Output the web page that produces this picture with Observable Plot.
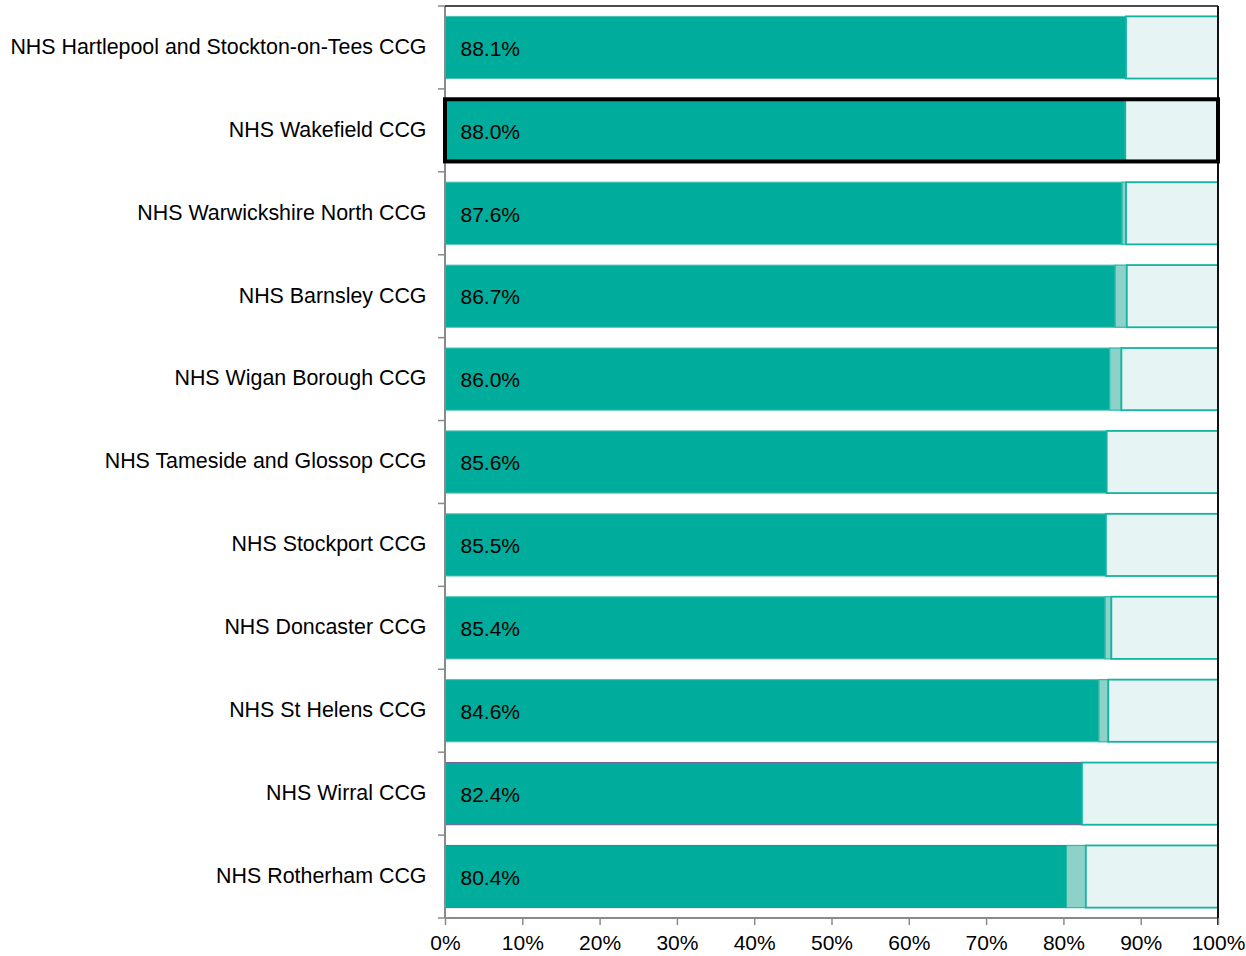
<!DOCTYPE html>
<html>
<head>
<meta charset="utf-8">
<script src="https://cdn.jsdelivr.net/npm/d3@7"></script>
<script src="https://cdn.jsdelivr.net/npm/@observablehq/plot@0.6"></script>
<style>
  html, body { margin: 0; padding: 0; background: #ffffff; }
  #chart svg { display: block; }
</style>
</head>
<body>
<div id="chart"></div>
<script>
// ---- data ----
const categories = [
  "NHS Hartlepool and Stockton-on-Tees CCG",
  "NHS Wakefield CCG",
  "NHS Warwickshire North CCG",
  "NHS Barnsley CCG",
  "NHS Wigan Borough CCG",
  "NHS Tameside and Glossop CCG",
  "NHS Stockport CCG",
  "NHS Doncaster CCG",
  "NHS St Helens CCG",
  "NHS Wirral CCG",
  "NHS Rotherham CCG"
];
const values = [88.1, 88.0, 87.6, 86.7, 86.0, 85.6, 85.5, 85.4, 84.6, 82.4, 80.4];
const upperValues = [88.1, 88.0, 88.1, 88.2, 87.5, 85.6, 85.5, 86.2, 85.8, 82.4, 82.9];
const highlighted = ["NHS Wakefield CCG"];
const purpleOutlined = ["NHS Wirral CCG", "NHS Rotherham CCG"];
const xTicks = [0, 10, 20, 30, 40, 50, 60, 70, 80, 90, 100];
const xTickLabels = ["0%", "10%", "20%", "30%", "40%", "50%", "60%", "70%", "80%", "90%", "100%"];

const data = categories.map((name, i) => ({
  name,
  value: values[i],
  upper: upperValues[i],
  label: values[i].toFixed(1) + "%"
}));

// ---- colours ----
const DARK = "#00AC9B";
const MID = "#8CD2C8";
const PALE = "#E6F4F3";
const TEAL = "#14B3A1";
const GREY = "#8a8a8a";
const FONT = "'Liberation Sans', Arial, Helvetica, sans-serif";

function frameLines(index, scales, values, dims) {
  const x = scales.x, y = scales.y;
  const top = dims.marginTop, bottom = dims.height - dims.marginBottom;
  const x0 = x(0), x1 = x(100);
  const bw = y.bandwidth(), step = y.step();
  const pad = (step - bw) / 2;
  const bounds = categories.map(c => y(c) - pad);
  bounds.push(y(categories[categories.length - 1]) + bw + pad);
  const g = d3.create("svg:g");
  for (const b of bounds) {
    g.append("line").attr("x1", x0 - 7).attr("x2", x0).attr("y1", b).attr("y2", b)
      .attr("stroke", GREY).attr("stroke-width", 1.5);
  }
  g.append("line").attr("x1", x0).attr("x2", x0).attr("y1", top).attr("y2", bottom)
    .attr("stroke", GREY).attr("stroke-width", 2);
  g.append("line").attr("x1", x0).attr("x2", x1).attr("y1", bottom).attr("y2", bottom)
    .attr("stroke", GREY).attr("stroke-width", 2);
  g.append("line").attr("x1", x0).attr("x2", x1).attr("y1", top).attr("y2", top)
    .attr("stroke", "#111").attr("stroke-width", 1.5);
  g.append("line").attr("x1", x1).attr("x2", x1).attr("y1", top).attr("y2", bottom + 7)
    .attr("stroke", "#111").attr("stroke-width", 2);
  return g.node();
}

const chart = Plot.plot({
  width: 1246,
  height: 956,
  marginLeft: 445,
  marginRight: 28,
  marginTop: 6,
  marginBottom: 38,
  style: { fontFamily: FONT, fontSize: "21px", color: "black", background: "white" },
  x: { domain: [0, 100] },
  y: { domain: categories, paddingInner: 0.25, paddingOuter: 0.125, round: false },
  marks: [
    Plot.barX(data, {
      y: "name", x1: 0, x2: "value", fill: DARK,
      stroke: d => purpleOutlined.includes(d.name) ? "#7A5E9B" : "#4CC2B4",
      strokeWidth: 1
    }),
    Plot.barX(data.filter(d => d.upper > d.value), {
      y: "name", x1: "value", x2: "upper", fill: MID, stroke: "#2DB9A8", strokeWidth: 1.2
    }),
    Plot.barX(data, {
      y: "name", x1: "upper", x2: 100, fill: PALE, stroke: TEAL, strokeWidth: 1.8
    }),
    frameLines,
    Plot.barX(data.filter(d => highlighted.includes(d.name)), {
      y: "name", x1: 0, x2: 100, fill: "none", stroke: "black", strokeWidth: 4
    }),
    Plot.text(data, {
      y: "name", x: 0, dx: 15, dy: 1, text: "label", textAnchor: "start",
      fill: "black", fontSize: 21, fontFamily: FONT
    }),
    Plot.axisX({
      ticks: xTicks,
      tickFormat: d => xTickLabels[xTicks.indexOf(d)],
      tickSize: 7, tickPadding: 10, stroke: GREY, strokeWidth: 1.5, fill: "black",
      fontSize: 21, label: null
    }),
    Plot.axisY({
      tickSize: 0, tickPadding: 19, dy: -1, fill: "black", fontSize: 21.4, label: null
    })
  ]
});

document.getElementById("chart").appendChild(chart);
</script>
</body>
</html>
